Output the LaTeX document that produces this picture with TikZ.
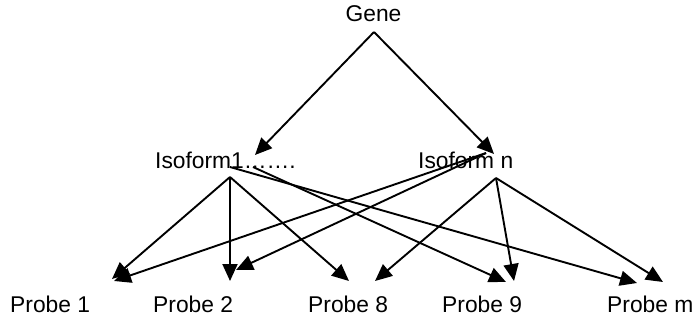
\documentclass[tikz,border=0pt]{standalone}
\usepackage{fontspec}
\setmainfont{Liberation Sans}
\usetikzlibrary{arrows.meta}
\begin{document}
\begin{tikzpicture}[x=1pt,y=-1pt,
  lbl/.style={inner sep=0pt,anchor=base west,font=\fontsize{22.8}{26}\selectfont},
  conn/.style={line width=1.9pt,-{Triangle[length=17pt,width=15pt]}}]
\useasboundingbox (0,0) rectangle (698,321);
% text
\node[lbl,anchor=base] (gene) at (373.5,22) {Gene};
\node[lbl] (iso1) at (155,168) {Isoform1……. };
\node[lbl] (ison) at (418,168) {Isoform n};
\node[lbl] (p1) at (10,312) {Probe 1};
\node[lbl] (p2) at (153,312) {Probe 2};
\node[lbl] (p8) at (308,312) {Probe 8};
\node[lbl] (p9) at (442,312) {Probe 9};
\node[lbl] (pm) at (607,312) {Probe m};
% connector points
\coordinate (gtop) at (374,32);
\coordinate (i1in) at (255,155);
\coordinate (inin) at (494,154);
\coordinate (i1a) at (230,177);
\coordinate (i1b) at (230,167);
\coordinate (i1c) at (253,167);
\coordinate (ina) at (496,178);
\coordinate (inb) at (486,153);
\coordinate (t1a) at (112,279);
\coordinate (t1b) at (114,281);
\coordinate (t2a) at (230,281);
\coordinate (t2b) at (236,270);
\coordinate (t8a) at (349,281);
\coordinate (t8b) at (375,281);
\coordinate (t9a) at (506,282);
\coordinate (t9b) at (514,281);
\coordinate (tma) at (637,283);
\coordinate (tmb) at (663,282);
% connectors
\draw[conn] (gtop) -- (i1in);
\draw[conn] (gtop) -- (inin);
\draw[conn] (i1a) -- (t1a);
\draw[conn] (i1a) -- (t2a);
\draw[conn] (i1a) -- (t8a);
\draw[conn] (i1c) -- (t9a);
\draw[conn] (i1b) -- (tma);
\draw[conn] (inb) -- (t1b);
\draw[conn] (inb) -- (t2b);
\draw[conn] (ina) -- (t8b);
\draw[conn] (ina) -- (t9b);
\draw[conn] (ina) -- (tmb);
\end{tikzpicture}
\end{document}
